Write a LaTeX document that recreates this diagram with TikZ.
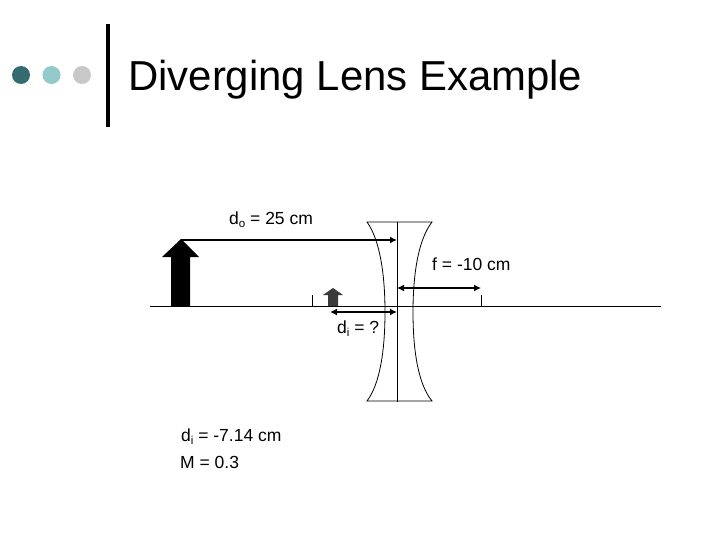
\documentclass[tikz,border=0pt]{standalone}
\usepackage{fontspec}
\setmainfont{Liberation Sans}
\usetikzlibrary{arrows.meta}
\definecolor{dotA}{HTML}{336B70}
\definecolor{dotB}{HTML}{93C9CB}
\definecolor{dotC}{HTML}{C8C8C8}
\definecolor{imgarrow}{HTML}{3A3A3A}
\tikzset{
  x=1pt,y=-1pt,
  thinline/.style={draw=black,line width=0.8pt},
  dim/.style={draw=black,line width=1.5pt,{Latex[length=7pt,width=7pt]}-{Latex[length=7pt,width=7pt]}},
  dimr/.style={draw=black,line width=1.5pt,-{Latex[length=7pt,width=7pt]}},
  lbl/.style={font=\fontsize{17.5}{20}\selectfont,inner sep=0pt,anchor=base west},
  ttl/.style={font=\fontsize{41.9}{46}\selectfont,inner sep=0pt,anchor=base west},
  dotn/.style={circle,inner sep=0pt,minimum size=18pt}
}
\begin{document}
\begin{tikzpicture}
\useasboundingbox (0,0) rectangle (720,540);
\fill[white] (0,0) rectangle (720,540);
% header
\node[dotn,fill=dotA] (d1) at (21,75) {};
\node[dotn,fill=dotB] (d2) at (51.5,75) {};
\node[dotn,fill=dotC] (d3) at (82,75) {};
\coordinate (bt) at (108,24);
\coordinate (bb) at (108,127);
\draw[line width=4pt] (bt) -- (bb);
\node[ttl] (title) at (128,91) {Diverging Lens Example};
% axis
\coordinate (axL) at (150,306);
\coordinate (axR) at (661,306);
\draw[thinline] (axL) -- (axR);
% ticks
\coordinate (t1a) at (312,295); \coordinate (t1b) at (312,306);
\coordinate (t2a) at (481,295); \coordinate (t2b) at (481,306);
\draw[thinline] (t1a) -- (t1b);
\draw[thinline] (t2a) -- (t2b);
% object and image
\fill[black] (181,239) -- (199,257) -- (190,257) -- (190,306) -- (171,306) -- (171,257) -- (162,257) -- cycle;
\fill[imgarrow] (333,288) -- (343,295) -- (338,295) -- (338,306) -- (328,306) -- (328,295) -- (323,295) -- cycle;
% lens
\coordinate (lcT) at (397,222);
\coordinate (lcB) at (397,402);
\draw[thinline] (lcT) -- (lcB);
\draw[thinline] (367,222) -- (432,222)
  .. controls (418,240) and (413,275) .. (413,312)
  .. controls (413,350) and (418,384) .. (432,401)
  -- (367,401)
  .. controls (380,384) and (385,350) .. (385,312)
  .. controls (385,275) and (380,240) .. (367,222) -- cycle;
% dimensions
\coordinate (doL) at (181,240); \coordinate (doR) at (397,240);
\coordinate (fL) at (397,288); \coordinate (fR) at (481,288);
\coordinate (diL) at (330,312); \coordinate (diR) at (397,312);
\draw[dimr] (doL) -- (doR);
\draw[dim] (fL) -- (fR);
\draw[dim] (diL) -- (diR);
% labels
\node[lbl] (lo) at (229,225) {d\raisebox{-3pt}{\fontsize{11.5}{13}\selectfont o} = 25 cm};
\node[lbl] (lf) at (432,270) {f = -10 cm};
\node[lbl] (li) at (337,333) {d\raisebox{-3pt}{\fontsize{11.5}{13}\selectfont i} = ?};
\node[lbl] (r1) at (181,441) {d\raisebox{-3pt}{\fontsize{11.5}{13}\selectfont i} = -7.14 cm};
\node[lbl] (r2) at (180,468) {M = 0.3};
\end{tikzpicture}
\end{document}
